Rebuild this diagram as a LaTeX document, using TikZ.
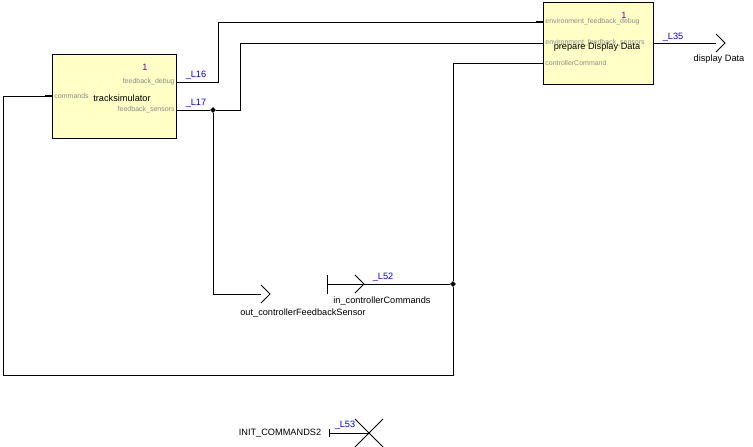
\documentclass[tikz,border=0pt]{standalone}
\usepackage{fontspec}
\setmainfont{Liberation Sans}
\usepackage{tikz}
\usetikzlibrary{shapes.geometric}
\definecolor{blockfill}{HTML}{FFFFC6}
\definecolor{portgrey}{HTML}{8C8C8C}
\definecolor{wireblue}{HTML}{0000FF}
\definecolor{instpurple}{HTML}{800080}
\newcommand*{\wire}[1]{\textcolor{wireblue}{\_#1}}

\begin{document}
\begin{tikzpicture}[x=1pt, y=-1pt, line width=0.9pt]
      \useasboundingbox (0,0) rectangle (753,447);
      \tikzset{block/.style={draw, fill=blockfill, anchor=north west, inner sep=0pt},
        port/.style={font=\fontsize{7}{8}\selectfont, text=portgrey, inner sep=0pt},
        lbl/.style={font=\fontsize{9.2}{10}\selectfont, inner sep=0pt},
        junction/.style={diamond, fill, inner sep=0pt, minimum size=6pt}}

      % blocks
      \node[block, minimum width=124pt, minimum height=84pt] (sim) at (52,54) {};
      \node[block, minimum width=110pt, minimum height=82pt] (prep) at (543,2) {};

      \node[lbl, text=instpurple] at (145,67) {1};
      \node[lbl, text=instpurple] at (624,15) {1};
      \node[port, anchor=east] (simdebug) at (175,82) {feedback\_debug};
      \node[port, anchor=east] (simsensors) at (175,110) {feedback\_sensors};
      \node[port, anchor=west] (simcmd) at (54,96) {commands};
      \node[lbl] at (122,98) {tracksimulator};

      \foreach \y/\t in {22/environment\_feedback\_debug, 43/environment\_feedback\_sensors,
                         63/controllerCommand}
      {
        \node[port, anchor=west] at (545,\y) {\t};
      }
      \node[lbl] at (597,47) {prepare Display Data};

      % port points
      \coordinate (simD) at (176,82);
      \coordinate (simS) at (176,110);
      \coordinate (simC) at (52,96);
      \coordinate (prepD) at (543,22);
      \coordinate (prepS) at (543,43);
      \coordinate (prepC) at (543,63);
      \coordinate (prepOut) at (653,43);

      % terminals
      \coordinate (dispData) at (725,43);
      \coordinate (outFB) at (270,294);
      \coordinate (inCmdBar) at (327,284);
      \coordinate (inCmd) at (364,284);
      \coordinate (initBar) at (329,433);
      \coordinate (initX) at (369,433);

      \node[junction] (j17) at (213,110) {};
      \node[junction] (j52) at (453,284) {};

      \node[lbl] at (719,59) {display Data};
      \node[lbl] at (303,313) {out\_controllerFeedbackSensor};
      \node[lbl] at (382,301) {in\_controllerCommands};
      \node[lbl] (init) at (280,433) {INIT\_COMMANDS2};

      \node[lbl] at (196,75) {\wire{L16}};
      \node[lbl] at (196,103) {\wire{L17}};
      \node[lbl] at (673,37) {\wire{L35}};
      \node[lbl] at (383,277) {\wire{L52}};
      \node[lbl] at (345,425) {\wire{L53}};

      % stubs
      \draw[line width=2pt] (simC) -- ++(-7,0);
      \draw[line width=2pt] (prepD) -- ++(-7,0);

      % connectors
      \draw (simD) -| (218,22) -- (prepD);
      \draw (simS) -- (j17) -| (240,43) -- (prepS);
      \draw (j17) |- ([xshift=-9pt]outFB);
      \draw (prepOut) -- ([xshift=-9pt]dispData);
      \draw (inCmd) -- (j52);
      \draw (prepC) -| (j52) -- (453,375) -| (3,96) -- (simC);
      \draw (inCmdBar) -- (inCmd);
      \draw (initBar) -- (initX);

      % arrow heads
      \draw ([shift={(-9,-9)}]dispData) -- (dispData) -- ([shift={(-9,9)}]dispData);
      \draw ([shift={(-9,-9)}]outFB) -- (outFB) -- ([shift={(-9,9)}]outFB);
      \draw ([shift={(-9,-9)}]inCmd) -- (inCmd) -- ([shift={(-9,9)}]inCmd);
      \draw ([yshift=-10pt]inCmdBar) -- ([yshift=9pt]inCmdBar);
      \draw ([yshift=-4pt]initBar) -- ([yshift=4pt]initBar);
      \draw ([shift={(-14,-14)}]initX) -- ([shift={(14,14)}]initX)
        ([shift={(-14,14)}]initX) -- ([shift={(14,-14)}]initX);
    \end{tikzpicture}
\end{document}
